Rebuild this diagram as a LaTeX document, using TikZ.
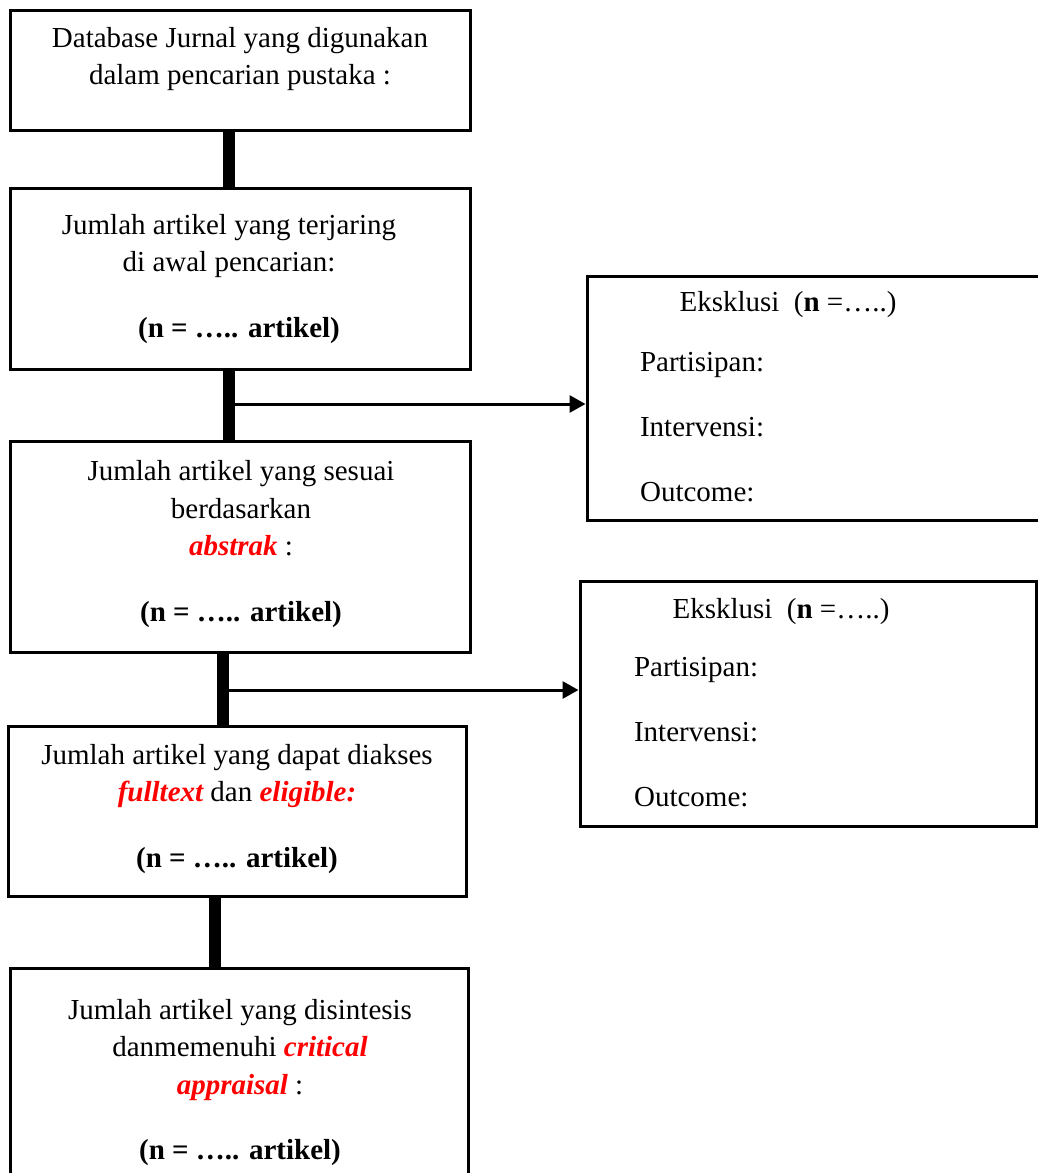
\documentclass[tikz,border=0pt]{standalone}
\usepackage{fontspec}
\setmainfont{Liberation Serif}
\usetikzlibrary{arrows.meta}
\newcommand{\redit}[1]{\textcolor{red}{\bfseries\itshape #1}}

\begin{document}
\begin{tikzpicture}[x=0.5pt,y=-0.5pt,
        box/.style={draw,line width=1.5pt,inner sep=0pt},
        txt/.style={align=center,font=\fontsize{14.5}{18.75}\selectfont},
        lst/.style={align=left,anchor=west,font=\fontsize{14.5}{32.5}\selectfont},
        bar/.style={line width=6pt},
        arr/.style={line width=1.5pt,-{Triangle[length=8pt,width=8.5pt]}}]
            \useasboundingbox (0,0) rectangle (1038,1173);
            \clip (0,0) rectangle (1038,1173);

            \node[box,minimum width=230pt,minimum height=60pt] (A) at (240,70) {};
            \node[box,minimum width=230pt,minimum height=90.5pt] (B) at (240,278.5) {};
            \node[box,minimum width=230pt,minimum height=105.5pt] (C) at (240,546.5) {};
            \node[box,minimum width=229pt,minimum height=85pt] (D) at (237,811) {};
            \node[box,minimum width=229pt,minimum height=108.5pt] (E) at (239,1076.5) {};
            \node[box,minimum width=231.5pt,minimum height=122pt] (X) at (818.5,398) {};
            \node[box,minimum width=228pt,minimum height=122.5pt] (Y) at (808,703.5) {};

            \node[txt] (A1) at (240,59) {Database Jurnal yang digunakan\\dalam pencarian pustaka :};
            \node[txt] (B1) at (229,279) {Jumlah artikel yang terjaring\\di awal pencarian:\\[14pt]
                \textbf{\hspace*{10pt}(n = ….. artikel)}};
            \node[txt] (C1) at (241,544) {Jumlah artikel yang sesuai\\berdasarkan\\\redit{abstrak} :\\[14pt]
                \textbf{(n = ….. artikel)}};
            \node[txt] (D1) at (237,809) {Jumlah artikel yang dapat diakses\\
                \redit{fulltext} dan \redit{eligible:}\\[14pt]
                \textbf{(n = ….. artikel)}};
            \node[txt] (E1) at (240,1082.5) {Jumlah artikel yang disintesis\\
                danmemenuhi \redit{critical}\\\redit{appraisal} :\\[14pt]
                \textbf{(n = ….. artikel)}};

            \node[txt] (X1) at (788,305) {Eksklusi~~(\textbf{n} =…..)};
            \node[lst] (X2) at (633,427.5) {Partisipan:\\Intervensi:\\Outcome:};
            \node[txt] (Y1) at (781,612) {Eksklusi~~(\textbf{n} =…..)};
            \node[lst] (Y2) at (627,732.5) {Partisipan:\\Intervensi:\\Outcome:};

            \coordinate (J1) at (229,404);
            \coordinate (J2) at (223,690);
            \coordinate (J3) at (215,932);

            \draw[bar] (J1 |- A.south) -- (J1 |- B.north);
            \draw[bar] (J1 |- B.south) -- (J1 |- C.north);
            \draw[bar] (J2 |- C.south) -- (J2 |- D.north);
            \draw[bar] (J3 |- D.south) -- (J3 |- E.north);
            \draw[arr] (J1) -- (J1 -| X.west);
            \draw[arr] (J2) -- (J2 -| Y.west);
        \end{tikzpicture}
\end{document}
